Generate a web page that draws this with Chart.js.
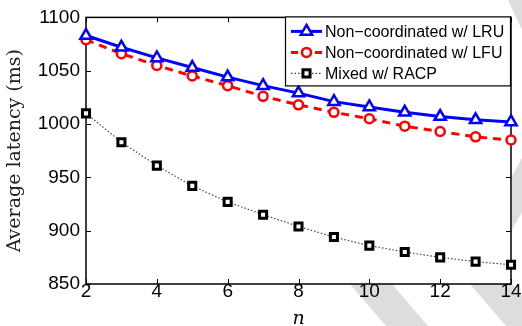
<!DOCTYPE html>
<html>
<head>
<meta charset="utf-8">
<script src="https://cdn.jsdelivr.net/npm/chart.js@4.4.1/dist/chart.umd.min.js"></script>
<style>
  html, body { margin: 0; padding: 0; background: #fff; }
</style>
</head>
<body>
<canvas id="chart" width="522" height="326"></canvas>
<script>
// data
const nValues = [2, 3, 4, 5, 6, 7, 8, 9, 10, 11, 12, 13, 14];
const lruLatency  = [1083, 1072, 1062, 1053, 1044, 1036, 1029, 1021, 1016, 1011, 1007, 1004, 1002];
const lfuLatency  = [1079, 1066, 1055, 1045, 1036, 1026, 1018, 1011, 1005, 998, 993, 988, 985];
const racpLatency = [1010, 983, 961, 942, 927, 915, 904, 894, 886, 880, 875, 871, 868];
const seriesNames = ['Non\u2212coordinated w/ LRU', 'Non\u2212coordinated w/ LFU', 'Mixed w/ RACP'];
const xTicks = [2, 4, 6, 8, 10, 12, 14];
const yTicks = [850, 900, 950, 1000, 1050, 1100];

function toPoints(ys) {
    return nValues.map((n, i) => ({ x: n, y: ys[i] }));
}

// faint grey stripes behind the figure
const backdrop = {
    id: 'backdrop',
    beforeDraw(chart) {
        const ctx = chart.ctx;
        const a = chart.chartArea;
        ctx.save();
        ctx.fillStyle = '#dddddd';
        const bands = [
            [[350, 284], [392, 284], [428, 326], [386, 326]],
            [[470, 284], [512, 284], [548, 326], [506, 326]],
            [[512, 176], [522, 158], [522, 212], [512, 230]],
            [[508, 0], [522, 0], [522, 30]]
        ];
        bands.forEach(b => {
            ctx.beginPath();
            ctx.moveTo(b[0][0], b[0][1]);
            for (let i = 1; i < b.length; i++) ctx.lineTo(b[i][0], b[i][1]);
            ctx.closePath();
            ctx.fill();
        });
        ctx.fillStyle = '#fff';
        ctx.fillRect(a.left, a.top, a.right - a.left, a.bottom - a.top);
        ctx.restore();
    }
};

// matlab style box with inward ticks
const frame = {
    id: 'frame',
    beforeDatasetsDraw(chart) {
        const ctx = chart.ctx;
        const a = chart.chartArea;
        const xs = chart.scales.x, ys = chart.scales.y;
        ctx.save();
        ctx.strokeStyle = '#000';
        ctx.lineWidth = 1.5;
        ctx.strokeRect(a.left, a.top, a.right - a.left, a.bottom - a.top);
        ctx.lineWidth = 1;
        ctx.beginPath();
        xTicks.forEach(v => {
            const px = Math.round(xs.getPixelForValue(v)) + 0.5;
            ctx.moveTo(px, a.bottom); ctx.lineTo(px, a.bottom - 5);
            ctx.moveTo(px, a.top); ctx.lineTo(px, a.top + 5);
        });
        yTicks.forEach(v => {
            const py = Math.round(ys.getPixelForValue(v)) + 0.5;
            ctx.moveTo(a.left, py); ctx.lineTo(a.left + 5, py);
            ctx.moveTo(a.right, py); ctx.lineTo(a.right - 5, py);
        });
        ctx.stroke();
        ctx.restore();
    }
};

// boxed legend in the upper right corner of the plot
const boxLegend = {
    id: 'boxLegend',
    afterDatasetsDraw(chart) {
        const ctx = chart.ctx;
        const a = chart.chartArea;
        const w = 225, h = 69;
        const bx = a.right - w - 1, by = a.top - 1;
        ctx.save();
        ctx.fillStyle = '#fff';
        ctx.fillRect(bx, by, w, h);
        ctx.strokeStyle = '#000';
        ctx.lineWidth = 1.2;
        ctx.strokeRect(bx + 0.5, by + 0.5, w, h);
        ctx.font = '16px "Liberation Sans", Arial, sans-serif';
        ctx.textBaseline = 'middle';
        chart.data.datasets.forEach((ds, i) => {
            const y = by + 15 + i * 21;
            const x0 = bx + 6, x1 = bx + 37, xm = (x0 + x1) / 2;
            ctx.save();
            ctx.strokeStyle = ds.borderColor;
            ctx.lineWidth = ds.borderWidth;
            ctx.setLineDash(ds.legendDash || ds.borderDash || []);
            ctx.beginPath();
            ctx.moveTo(x0, y); ctx.lineTo(x1, y);
            ctx.stroke();
            ctx.restore();
            ctx.save();
            ctx.strokeStyle = ds.pointBorderColor;
            ctx.fillStyle = ds.pointBackgroundColor;
            ctx.lineWidth = ds.pointBorderWidth;
            Chart.helpers.drawPoint(ctx, {
                pointStyle: ds.pointStyle,
                radius: ds.pointRadius,
                rotation: 0,
                borderWidth: ds.pointBorderWidth
            }, xm, y);
            ctx.restore();
            ctx.fillStyle = '#000';
            ctx.fillText(ds.label, bx + 40, y + 1);
        });
        ctx.restore();
    }
};

const config = {
    type: 'line',
    data: {
        datasets: [{
            label: seriesNames[0],
            data: toPoints(lruLatency),
            borderColor: '#0000ff',
            borderWidth: 3,
            pointStyle: 'triangle',
            pointRadius: 6.5,
            pointBorderWidth: 2.5,
            pointBorderColor: '#0000ff',
            pointBackgroundColor: '#fff'
        }, {
            label: seriesNames[1],
            data: toPoints(lfuLatency),
            borderColor: '#ff0000',
            borderWidth: 3,
            borderDash: [8, 6],
            legendDash: [7, 17],
            pointStyle: 'circle',
            pointRadius: 4.5,
            pointBorderWidth: 2.5,
            pointBorderColor: '#ff0000',
            pointBackgroundColor: '#fff'
        }, {
            label: seriesNames[2],
            data: toPoints(racpLatency),
            borderColor: '#444',
            borderWidth: 1.2,
            borderDash: [1.5, 2],
            pointStyle: 'rect',
            pointRadius: 5,
            pointBorderWidth: 3,
            pointBorderColor: '#000',
            pointBackgroundColor: '#fff'
        }]
    },
    options: {
        responsive: false,
        animation: false,
        clip: false,
        layout: { padding: { top: 15, right: 11, left: 0, bottom: 0 } },
        plugins: {
            legend: { display: false },
            tooltip: { enabled: false }
        },
        scales: {
            x: {
                type: 'linear',
                min: 2,
                max: 14,
                afterBuildTicks: s => { s.ticks = xTicks.map(v => ({ value: v })); },
                afterFit: s => { s.height = 42; },
                grid: { display: false, drawTicks: false },
                border: { display: false },
                ticks: {
                    padding: -4,
                    color: '#000',
                    callback: v => String(v),
                    font: { family: '"Liberation Sans", Arial, sans-serif', size: 19 }
                },
                title: {
                    display: true,
                    text: 'n',
                    color: '#000',
                    padding: { top: 0, bottom: -3 },
                    font: { family: '"DejaVu Serif", serif', size: 19, style: 'italic', lineHeight: 1 }
                }
            },
            y: {
                type: 'linear',
                min: 850,
                max: 1100,
                afterBuildTicks: s => { s.ticks = yTicks.map(v => ({ value: v })); },
                afterFit: s => { s.width = 86; },
                grid: { display: false, drawTicks: false },
                border: { display: false },
                ticks: {
                    padding: 6,
                    color: '#000',
                    callback: v => String(v),
                    font: { family: '"Liberation Sans", Arial, sans-serif', size: 19 }
                },
                title: {
                    display: true,
                    text: 'Average latency (ms)',
                    color: '#222',
                    padding: { top: 6, bottom: 0 },
                    font: { family: '"DejaVu Serif", serif', size: 19, lineHeight: 1 }
                }
            }
        }
    },
    plugins: [backdrop, frame, boxLegend]
};

new Chart(document.getElementById('chart'), config);
</script>
</body>
</html>
